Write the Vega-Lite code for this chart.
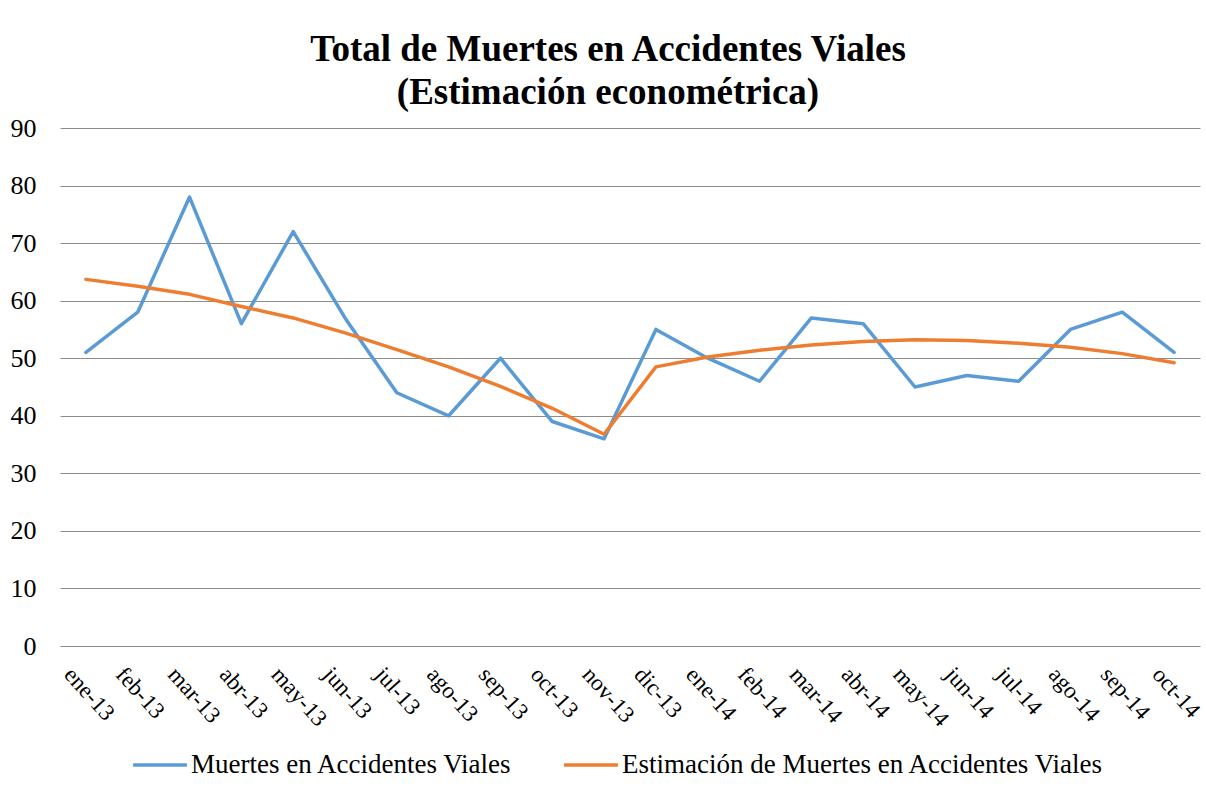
{
  "$schema": "https://vega.github.io/schema/vega-lite/v6.json",
  "width": 1140,
  "height": 518,
  "autosize": {"type": "none"},
  "padding": {"left": 60, "top": 128, "right": 6, "bottom": 151},
  "background": "white",
  "config": {
    "view": {"stroke": null},
    "font": "Liberation Serif",
    "axis": {"labelFont": "Liberation Serif"},
    "legend": {"labelFont": "Liberation Serif"}
  },
  "title": {
    "text": ["Total de Muertes en Accidentes Viales", "(Estimación econométrica)"],
    "font": "Liberation Serif",
    "fontSize": 37,
    "fontWeight": "bold",
    "color": "#000000",
    "anchor": "middle",
    "frame": "group",
    "dx": -22,
    "offset": 3,
    "lineHeight": 43
  },
  "data": {
    "values": [
      {"mes": "ene-13", "Muertes en Accidentes Viales": 51, "Estimación de Muertes en Accidentes Viales": 63.7},
      {"mes": "feb-13", "Muertes en Accidentes Viales": 58, "Estimación de Muertes en Accidentes Viales": 62.5},
      {"mes": "mar-13", "Muertes en Accidentes Viales": 78, "Estimación de Muertes en Accidentes Viales": 61.1},
      {"mes": "abr-13", "Muertes en Accidentes Viales": 56, "Estimación de Muertes en Accidentes Viales": 59.0},
      {"mes": "may-13", "Muertes en Accidentes Viales": 72, "Estimación de Muertes en Accidentes Viales": 57.0},
      {"mes": "jun-13", "Muertes en Accidentes Viales": 57, "Estimación de Muertes en Accidentes Viales": 54.4},
      {"mes": "jul-13", "Muertes en Accidentes Viales": 44, "Estimación de Muertes en Accidentes Viales": 51.5},
      {"mes": "ago-13", "Muertes en Accidentes Viales": 40, "Estimación de Muertes en Accidentes Viales": 48.5},
      {"mes": "sep-13", "Muertes en Accidentes Viales": 50, "Estimación de Muertes en Accidentes Viales": 45.1},
      {"mes": "oct-13", "Muertes en Accidentes Viales": 39, "Estimación de Muertes en Accidentes Viales": 41.3},
      {"mes": "nov-13", "Muertes en Accidentes Viales": 36, "Estimación de Muertes en Accidentes Viales": 36.8},
      {"mes": "dic-13", "Muertes en Accidentes Viales": 55, "Estimación de Muertes en Accidentes Viales": 48.5},
      {"mes": "ene-14", "Muertes en Accidentes Viales": 50, "Estimación de Muertes en Accidentes Viales": 50.2},
      {"mes": "feb-14", "Muertes en Accidentes Viales": 46, "Estimación de Muertes en Accidentes Viales": 51.4},
      {"mes": "mar-14", "Muertes en Accidentes Viales": 57, "Estimación de Muertes en Accidentes Viales": 52.3},
      {"mes": "abr-14", "Muertes en Accidentes Viales": 56, "Estimación de Muertes en Accidentes Viales": 52.9},
      {"mes": "may-14", "Muertes en Accidentes Viales": 45, "Estimación de Muertes en Accidentes Viales": 53.2},
      {"mes": "jun-14", "Muertes en Accidentes Viales": 47, "Estimación de Muertes en Accidentes Viales": 53.1},
      {"mes": "jul-14", "Muertes en Accidentes Viales": 46, "Estimación de Muertes en Accidentes Viales": 52.6},
      {"mes": "ago-14", "Muertes en Accidentes Viales": 55, "Estimación de Muertes en Accidentes Viales": 51.9},
      {"mes": "sep-14", "Muertes en Accidentes Viales": 58, "Estimación de Muertes en Accidentes Viales": 50.8},
      {"mes": "oct-14", "Muertes en Accidentes Viales": 51, "Estimación de Muertes en Accidentes Viales": 49.2}
    ]
  },
  "transform": [
    {"fold": ["Muertes en Accidentes Viales", "Estimación de Muertes en Accidentes Viales"], "as": ["serie", "valor"]}
  ],
  "mark": {"type": "line", "strokeWidth": 3.5, "strokeJoin": "round", "strokeCap": "round"},
  "encoding": {
    "x": {
      "field": "mes",
      "type": "ordinal",
      "sort": ["ene-13","feb-13","mar-13","abr-13","may-13","jun-13","jul-13","ago-13","sep-13","oct-13","nov-13","dic-13","ene-14","feb-14","mar-14","abr-14","may-14","jun-14","jul-14","ago-14","sep-14","oct-14"],
      "scale": {"type": "point", "padding": 0.5},
      "axis": {
        "title": null,
        "domain": false,
        "ticks": false,
        "grid": false,
        "labelAngle": 48,
        "labelAlign": "left",
        "labelBaseline": "top",
        "labelFont": "Liberation Serif",
        "labelFontSize": 23,
        "labelColor": "#000000",
        "labelPadding": 17,
        "labelOffset": -10
      }
    },
    "y": {
      "field": "valor",
      "type": "quantitative",
      "scale": {"domain": [0, 90], "nice": false, "zero": true},
      "axis": {
        "title": null,
        "values": [0, 10, 20, 30, 40, 50, 60, 70, 80, 90],
        "domain": false,
        "ticks": false,
        "grid": true,
        "gridColor": "#8c8c8c",
        "gridWidth": 1.2,
        "labelFont": "Liberation Serif",
        "labelFontSize": 26,
        "labelColor": "#000000",
        "labelPadding": 24
      }
    },
    "color": {
      "field": "serie",
      "type": "nominal",
      "sort": ["Muertes en Accidentes Viales", "Estimación de Muertes en Accidentes Viales"],
      "scale": {
        "domain": ["Muertes en Accidentes Viales", "Estimación de Muertes en Accidentes Viales"],
        "range": ["#5B9BD5", "#ED7D31"]
      },
      "legend": {
        "title": null,
        "orient": "none",
        "direction": "horizontal",
        "legendX": 71,
        "legendY": 608,
        "symbolType": "stroke",
        "symbolSize": 2900,
        "symbolStrokeWidth": 3.5,
        "labelFont": "Liberation Serif",
        "labelFontSize": 27,
        "labelColor": "#000000",
        "labelOffset": 2,
        "columnPadding": 44,
        "labelLimit": 700
      }
    }
  }
}
